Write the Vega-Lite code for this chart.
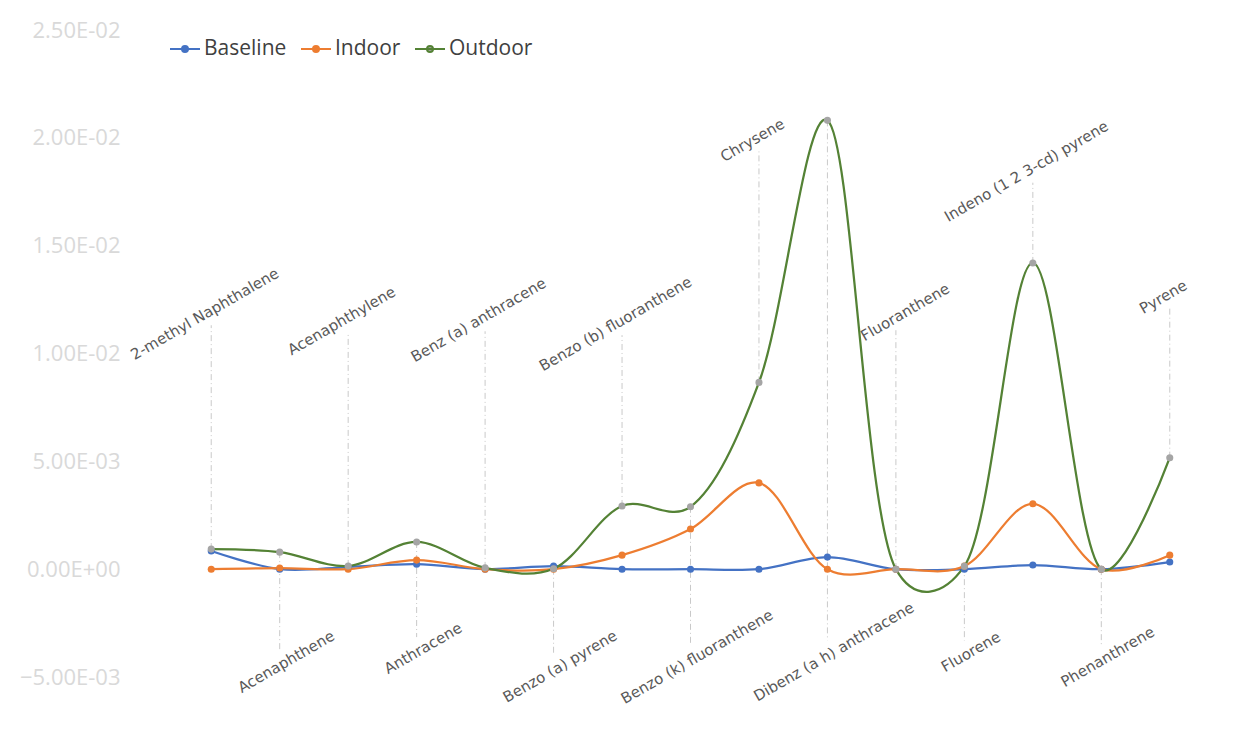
{
  "$schema": "https://vega.github.io/schema/vega-lite/v6.json",
  "width": 1027,
  "height": 647,
  "autosize": {"type": "none"},
  "padding": {"left": 177, "top": 30, "right": 49, "bottom": 67},
  "background": "white",
  "config": {"view": {"stroke": null}},
  "data": {"values": [
    {"compound": "2-methyl Naphthalene", "Baseline": 0.00084, "Indoor": 0.0, "Outdoor": 0.00093, "labelAt": 0.01131},
    {"compound": "Acenaphthene", "Baseline": 0.0, "Indoor": 0.00005, "Outdoor": 0.00079, "labelAt": -0.00377},
    {"compound": "Acenaphthylene", "Baseline": 0.0001, "Indoor": 0.0, "Outdoor": 0.00015, "labelAt": 0.01099},
    {"compound": "Anthracene", "Baseline": 0.00023, "Indoor": 0.00042, "Outdoor": 0.00126, "labelAt": -0.00315},
    {"compound": "Benz (a) anthracene", "Baseline": 0.0, "Indoor": 0.0, "Outdoor": 0.00006, "labelAt": 0.01103},
    {"compound": "Benzo (a) pyrene", "Baseline": 0.00014, "Indoor": 0.0, "Outdoor": 0.00002, "labelAt": -0.00399},
    {"compound": "Benzo (b) fluoranthene", "Baseline": 0.0, "Indoor": 0.00065, "Outdoor": 0.00293, "labelAt": 0.01085},
    {"compound": "Benzo (k) fluoranthene", "Baseline": 0.0, "Indoor": 0.00186, "Outdoor": 0.00289, "labelAt": -0.00354},
    {"compound": "Chrysene", "Baseline": 0.0, "Indoor": 0.004, "Outdoor": 0.00866, "labelAt": 0.01937},
    {"compound": "Dibenz (a h) anthracene", "Baseline": 0.00056, "Indoor": 0.0, "Outdoor": 0.02081, "labelAt": -0.00331},
    {"compound": "Fluoranthene", "Baseline": 0.0, "Indoor": 0.0, "Outdoor": 0.0, "labelAt": 0.01108},
    {"compound": "Fluorene", "Baseline": 0.0, "Indoor": 0.00014, "Outdoor": 0.00014, "labelAt": -0.00331},
    {"compound": "Indeno (1 2 3-cd) pyrene", "Baseline": 0.00019, "Indoor": 0.00303, "Outdoor": 0.0142, "labelAt": 0.01792},
    {"compound": "Phenanthrene", "Baseline": 0.0, "Indoor": 0.0, "Outdoor": 0.0, "labelAt": -0.00354},
    {"compound": "Pyrene", "Baseline": 0.00033, "Indoor": 0.00065, "Outdoor": 0.00517, "labelAt": 0.0121}
  ]},
  "encoding": {
    "x": {"field": "compound", "type": "nominal", "sort": null,
      "scale": {"type": "point", "padding": 0.5},
      "axis": null}
  },
  "layer": [
    {
      "mark": {"type": "rule", "color": "#c9c9c9", "strokeWidth": 1, "strokeDash": [6, 3, 1, 3]},
      "encoding": {
        "y": {"field": "Outdoor", "type": "quantitative"},
        "y2": {"field": "labelAt"}
      }
    },
    {
      "transform": [{"filter": "datum.labelAt > 0 && datum.compound != 'Fluoranthene'"}],
      "mark": {"type": "text", "angle": -30, "align": "center", "baseline": "bottom", "font": "DejaVu Sans", "fontSize": 15, "color": "#595959", "dy": -5},
      "encoding": {
        "y": {"field": "labelAt", "type": "quantitative"},
        "text": {"field": "compound"}
      }
    },
    {
      "transform": [{"filter": "datum.compound == 'Fluoranthene'"}],
      "mark": {"type": "text", "angle": -30, "align": "center", "baseline": "bottom", "font": "DejaVu Sans", "fontSize": 15, "color": "#595959", "dy": -3, "dx": 17},
      "encoding": {
        "y": {"field": "labelAt", "type": "quantitative"},
        "text": {"field": "compound"}
      }
    },
    {
      "transform": [{"filter": "datum.labelAt < 0"}],
      "mark": {"type": "text", "angle": -30, "align": "center", "baseline": "top", "font": "DejaVu Sans", "fontSize": 15, "color": "#595959", "dy": 6},
      "encoding": {
        "y": {"field": "labelAt", "type": "quantitative"},
        "text": {"field": "compound"}
      }
    },
    {
      "transform": [{"fold": ["Baseline", "Indoor", "Outdoor"], "as": ["series", "value"]}],
      "mark": {"type": "line", "interpolate": "catmull-rom", "tension": 0.25, "strokeWidth": 2.25},
      "encoding": {
        "y": {"field": "value", "type": "quantitative",
          "scale": {"domain": [-0.005, 0.025], "nice": false, "zero": false},
          "axis": {"title": null, "domain": false, "ticks": false, "grid": false,
            "values": [-0.005, 0, 0.005, 0.01, 0.015, 0.02, 0.025],
            "labelPadding": 57, "labelFont": "Open Sans", "labelFontSize": 22, "labelColor": "#d9d9d9",
            "labelExpr": "datum.value == 0 ? '0.00E+00' : format(datum.value / pow(10, floor(log(abs(datum.value)) / LN10 + 1e-9)), '.2f') + 'E' + (floor(log(abs(datum.value)) / LN10 + 1e-9) < 0 ? '-' : '+') + (abs(floor(log(abs(datum.value)) / LN10 + 1e-9)) < 10 ? '0' : '') + abs(floor(log(abs(datum.value)) / LN10 + 1e-9))"}},
        "color": {"field": "series", "type": "nominal",
          "scale": {"domain": ["Baseline", "Indoor", "Outdoor"], "range": ["#4472C4", "#ED7D31", "#548235"]},
          "legend": {"title": null, "orient": "none", "legendX": -8, "legendY": 3, "direction": "horizontal",
            "labelFont": "Open Sans", "labelFontSize": 21, "labelColor": "#404040",
            "symbolType": "M-1,0H1M-0.2,0A0.2,0.2,0,1,0,0.2,0A0.2,0.2,0,1,0,-0.2,0Z",
            "symbolSize": 900, "symbolStrokeWidth": 2, "symbolOpacity": 1,
            "labelOffset": 3, "columnPadding": 10}}
      }
    },
    {
      "transform": [{"fold": ["Baseline", "Indoor", "Outdoor"], "as": ["series", "value"]}],
      "mark": {"type": "point", "filled": true, "size": 50, "opacity": 1},
      "encoding": {
        "y": {"field": "value", "type": "quantitative"},
        "fill": {"field": "series", "type": "nominal",
          "scale": {"domain": ["Baseline", "Indoor", "Outdoor"], "range": ["#4472C4", "#ED7D31", "#A5A5A5"]},
          "legend": null}
      }
    }
  ]
}
